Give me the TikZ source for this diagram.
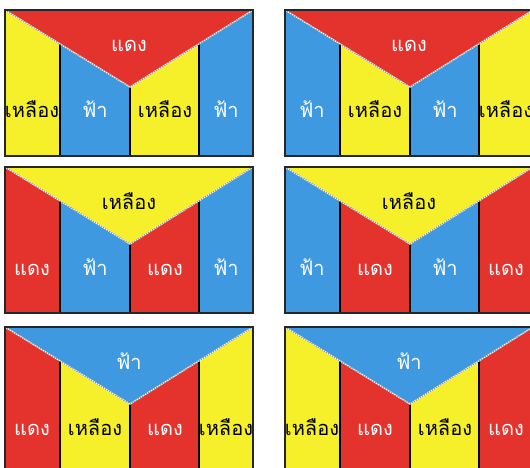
\documentclass[tikz,border=0pt]{standalone}
\usepackage{fontspec}
\newfontfamily\thaifont[Script=Thai]{Loma}
\usepackage{tikz}
\definecolor{flagred}{RGB}{228,50,45}
\definecolor{flagyellow}{RGB}{245,240,42}
\definecolor{flagblue}{RGB}{63,153,224}

\begin{document}
\begin{tikzpicture}[x=1pt, y=-1pt,
    frame/.style={draw=black!85, line width=1.1pt},
    divider/.style={black, line width=1.2pt},
    seam/.style={gray!85, line width=1.3pt, dash pattern=on 1.2pt off 1.2pt},
    seamback/.style={white, line width=1.3pt},
    lightlabel/.style={anchor=base, text=white, font=\thaifont\fontsize{20}{23}\selectfont},
    darklabel/.style={anchor=base, text=black, font=\thaifont\fontsize{20}{23}\selectfont}
]
\useasboundingbox (0,0) rectangle (530,468);
\fill[white] (0,0) rectangle (530,468);

% panel 1: red vee, yellow / blue
\begin{scope}[shift={(5,10)}]
\fill[flagyellow] (0,0) rectangle (55,146);
\fill[flagblue] (55,0) rectangle (125,146);
\fill[flagyellow] (125,0) rectangle (194,146);
\fill[flagblue] (194,0) rectangle (248,146);
\fill[flagred] (0,0) -- (248,0) -- (125,77) -- cycle;
\draw[divider] (55,146) -- (55,34);
\draw[divider] (125,146) -- (125,77);
\draw[divider] (194,146) -- (194,34);
\draw[seamback] (0,0) -- (125,77) -- (248,0);
\draw[seam] (0,0) -- (125,77) -- (248,0);
\draw[frame] (0,0) rectangle (248,146);
\node[lightlabel] (p1v) at (124,42) {แดง};
\node[darklabel] (p1a) at (27,108) {เหลือง};
\node[lightlabel] (p1b) at (90,108) {ฟ้า};
\node[darklabel] (p1c) at (160,108) {เหลือง};
\node[lightlabel] (p1d) at (221,108) {ฟ้า};
\end{scope}

% panel 2: red vee, blue / yellow
\begin{scope}[shift={(285,10)}]
\fill[flagblue] (0,0) rectangle (55,146);
\fill[flagyellow] (55,0) rectangle (125,146);
\fill[flagblue] (125,0) rectangle (194,146);
\fill[flagyellow] (194,0) rectangle (248,146);
\fill[flagred] (0,0) -- (248,0) -- (125,77) -- cycle;
\draw[divider] (55,146) -- (55,34);
\draw[divider] (125,146) -- (125,77);
\draw[divider] (194,146) -- (194,34);
\draw[seamback] (0,0) -- (125,77) -- (248,0);
\draw[seam] (0,0) -- (125,77) -- (248,0);
\draw[frame] (0,0) rectangle (248,146);
\node[lightlabel] (p2v) at (124,42) {แดง};
\node[lightlabel] (p2a) at (27,108) {ฟ้า};
\node[darklabel] (p2b) at (90,108) {เหลือง};
\node[lightlabel] (p2c) at (160,108) {ฟ้า};
\node[darklabel] (p2d) at (221,108) {เหลือง};
\end{scope}

% panel 3: yellow vee, red / blue
\begin{scope}[shift={(5,167)}]
\fill[flagred] (0,0) rectangle (55,146);
\fill[flagblue] (55,0) rectangle (125,146);
\fill[flagred] (125,0) rectangle (194,146);
\fill[flagblue] (194,0) rectangle (248,146);
\fill[flagyellow] (0,0) -- (248,0) -- (125,77) -- cycle;
\draw[divider] (55,146) -- (55,34);
\draw[divider] (125,146) -- (125,77);
\draw[divider] (194,146) -- (194,34);
\draw[seamback] (0,0) -- (125,77) -- (248,0);
\draw[seam] (0,0) -- (125,77) -- (248,0);
\draw[frame] (0,0) rectangle (248,146);
\node[darklabel] (p3v) at (124,42) {เหลือง};
\node[lightlabel] (p3a) at (27,108) {แดง};
\node[lightlabel] (p3b) at (90,108) {ฟ้า};
\node[lightlabel] (p3c) at (160,108) {แดง};
\node[lightlabel] (p3d) at (221,108) {ฟ้า};
\end{scope}

% panel 4: yellow vee, blue / red
\begin{scope}[shift={(285,167)}]
\fill[flagblue] (0,0) rectangle (55,146);
\fill[flagred] (55,0) rectangle (125,146);
\fill[flagblue] (125,0) rectangle (194,146);
\fill[flagred] (194,0) rectangle (248,146);
\fill[flagyellow] (0,0) -- (248,0) -- (125,77) -- cycle;
\draw[divider] (55,146) -- (55,34);
\draw[divider] (125,146) -- (125,77);
\draw[divider] (194,146) -- (194,34);
\draw[seamback] (0,0) -- (125,77) -- (248,0);
\draw[seam] (0,0) -- (125,77) -- (248,0);
\draw[frame] (0,0) rectangle (248,146);
\node[darklabel] (p4v) at (124,42) {เหลือง};
\node[lightlabel] (p4a) at (27,108) {ฟ้า};
\node[lightlabel] (p4b) at (90,108) {แดง};
\node[lightlabel] (p4c) at (160,108) {ฟ้า};
\node[lightlabel] (p4d) at (221,108) {แดง};
\end{scope}

% panel 5: blue vee, red / yellow
\begin{scope}[shift={(5,327)}]
\fill[flagred] (0,0) rectangle (55,146);
\fill[flagyellow] (55,0) rectangle (125,146);
\fill[flagred] (125,0) rectangle (194,146);
\fill[flagyellow] (194,0) rectangle (248,146);
\fill[flagblue] (0,0) -- (248,0) -- (125,77) -- cycle;
\draw[divider] (55,146) -- (55,34);
\draw[divider] (125,146) -- (125,77);
\draw[divider] (194,146) -- (194,34);
\draw[seamback] (0,0) -- (125,77) -- (248,0);
\draw[seam] (0,0) -- (125,77) -- (248,0);
\draw[frame] (0,0) rectangle (248,146);
\node[lightlabel] (p5v) at (124,42) {ฟ้า};
\node[lightlabel] (p5a) at (27,108) {แดง};
\node[darklabel] (p5b) at (90,108) {เหลือง};
\node[lightlabel] (p5c) at (160,108) {แดง};
\node[darklabel] (p5d) at (221,108) {เหลือง};
\end{scope}

% panel 6: blue vee, yellow / red
\begin{scope}[shift={(285,327)}]
\fill[flagyellow] (0,0) rectangle (55,146);
\fill[flagred] (55,0) rectangle (125,146);
\fill[flagyellow] (125,0) rectangle (194,146);
\fill[flagred] (194,0) rectangle (248,146);
\fill[flagblue] (0,0) -- (248,0) -- (125,77) -- cycle;
\draw[divider] (55,146) -- (55,34);
\draw[divider] (125,146) -- (125,77);
\draw[divider] (194,146) -- (194,34);
\draw[seamback] (0,0) -- (125,77) -- (248,0);
\draw[seam] (0,0) -- (125,77) -- (248,0);
\draw[frame] (0,0) rectangle (248,146);
\node[lightlabel] (p6v) at (124,42) {ฟ้า};
\node[darklabel] (p6a) at (27,108) {เหลือง};
\node[lightlabel] (p6b) at (90,108) {แดง};
\node[darklabel] (p6c) at (160,108) {เหลือง};
\node[lightlabel] (p6d) at (221,108) {แดง};
\end{scope}
\end{tikzpicture}
\end{document}
